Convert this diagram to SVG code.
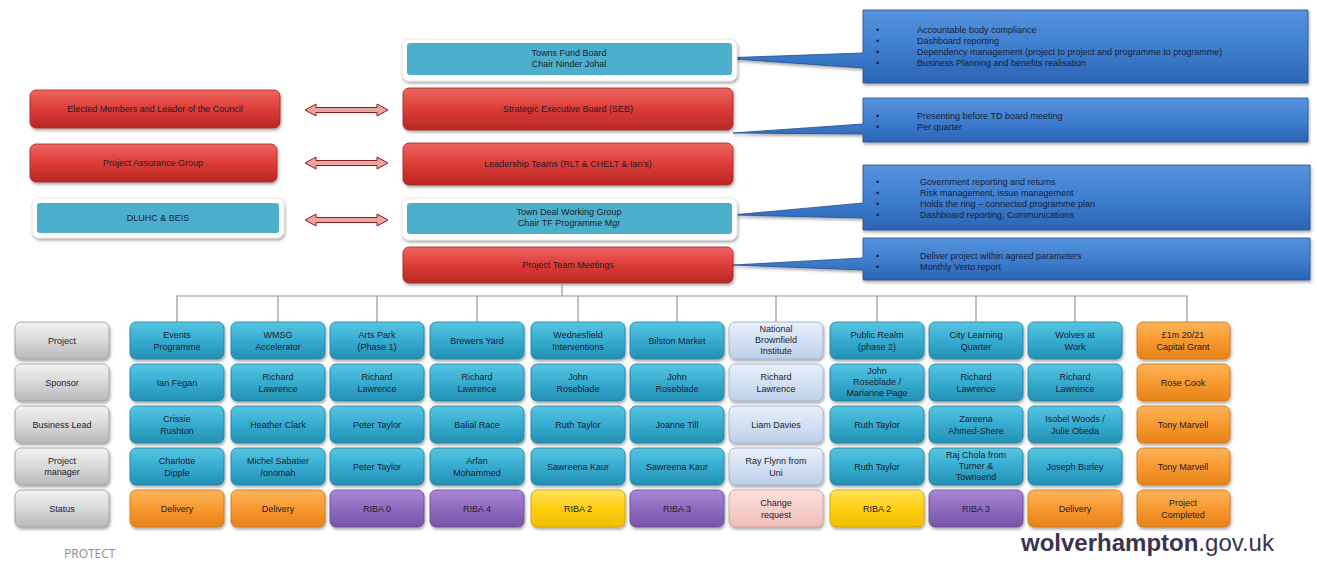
<svg xmlns="http://www.w3.org/2000/svg" width="1317" height="563" viewBox="0 0 1317 563">
<defs>
<linearGradient id="gRed" x1="0" y1="0" x2="0" y2="1"><stop offset="0" stop-color="#ee6561"/><stop offset="0.5" stop-color="#dc3c37"/><stop offset="1" stop-color="#b82824"/></linearGradient>
<linearGradient id="gTeal" x1="0" y1="0" x2="0" y2="1"><stop offset="0" stop-color="#56c6e2"/><stop offset="0.5" stop-color="#36acd0"/><stop offset="1" stop-color="#2290b3"/></linearGradient>
<linearGradient id="gGray" x1="0" y1="0" x2="0" y2="1"><stop offset="0" stop-color="#f2f2f2"/><stop offset="0.5" stop-color="#d9d9d9"/><stop offset="1" stop-color="#b8b8b8"/></linearGradient>
<linearGradient id="gOrange" x1="0" y1="0" x2="0" y2="1"><stop offset="0" stop-color="#fcb45a"/><stop offset="0.5" stop-color="#f7992f"/><stop offset="1" stop-color="#e8821a"/></linearGradient>
<linearGradient id="gPurple" x1="0" y1="0" x2="0" y2="1"><stop offset="0" stop-color="#a887d2"/><stop offset="0.5" stop-color="#8f6bbf"/><stop offset="1" stop-color="#7655a8"/></linearGradient>
<linearGradient id="gYellow" x1="0" y1="0" x2="0" y2="1"><stop offset="0" stop-color="#ffe45a"/><stop offset="0.5" stop-color="#ffcf10"/><stop offset="1" stop-color="#f2bd00"/></linearGradient>
<linearGradient id="gPink" x1="0" y1="0" x2="0" y2="1"><stop offset="0" stop-color="#fde0dc"/><stop offset="1" stop-color="#f0bdb7"/></linearGradient>
<linearGradient id="gLight" x1="0" y1="0" x2="0" y2="1"><stop offset="0" stop-color="#e8f0fa"/><stop offset="0.5" stop-color="#d3e1f3"/><stop offset="1" stop-color="#bccfe9"/></linearGradient>
<linearGradient id="gBlue" x1="0" y1="0" x2="0" y2="1"><stop offset="0" stop-color="#5693de"/><stop offset="0.5" stop-color="#3f7fd0"/><stop offset="1" stop-color="#2c64b4"/></linearGradient>
<filter id="sh" x="-10%" y="-20%" width="120%" height="150%"><feDropShadow dx="1" dy="2" stdDeviation="1.5" flood-color="#000" flood-opacity="0.35"/></filter>
</defs>
<style>
text{font-family:"Liberation Sans",Arial,sans-serif;font-size:9px;fill:#1c1c2e;text-anchor:middle}
.red{fill:url(#gRed);stroke:#a52420;stroke-width:0.8}
.teal{fill:url(#gTeal);stroke:#1f7f9f;stroke-width:0.8}
.gray{fill:url(#gGray);stroke:#9a9a9a;stroke-width:0.8}
.orange{fill:url(#gOrange);stroke:#c97416;stroke-width:0.8}
.purple{fill:url(#gPurple);stroke:#62468f;stroke-width:0.8}
.yellow{fill:url(#gYellow);stroke:#c9a000;stroke-width:0.8}
.pink{fill:url(#gPink);stroke:#c99a95;stroke-width:0.8}
.light{fill:url(#gLight);stroke:#97abc6;stroke-width:0.8}
.frame{fill:#ffffff;stroke:#e2e2e2;stroke-width:0.8}
.flat{fill:#4cb0cd}
.callout{fill:url(#gBlue);stroke:#22508f;stroke-width:0.8}
.ct{text-anchor:start;fill:#161c38}
.dbl{fill:#e9a5a2;stroke:#8e1d1a;stroke-width:1}
.tree{fill:none;stroke:#8d9aa6;stroke-width:1.2}
</style>

<!-- Callouts -->
<g id="callout-towns-fund">
<path class="callout" filter="url(#sh)" d="M863,10 H1308 V83 H863 V68 L720,58 L863,53 Z"/>
<text class="ct" x="876" y="33">•</text><text class="ct" x="917" y="33">Accountable body compliance</text>
<text class="ct" x="876" y="44">•</text><text class="ct" x="917" y="44">Dashboard reporting</text>
<text class="ct" x="876" y="55">•</text><text class="ct" x="917" y="55">Dependency management (project to project and programme to programme)</text>
<text class="ct" x="876" y="66">•</text><text class="ct" x="917" y="66">Business Planning and benefits realisation</text>
</g>
<g id="callout-seb">
<path class="callout" filter="url(#sh)" d="M863,98 H1308 V142 H863 V134 L733,133 L863,124 Z"/>
<text class="ct" x="876" y="119">•</text><text class="ct" x="917" y="119">Presenting before TD board meeting</text>
<text class="ct" x="876" y="130">•</text><text class="ct" x="917" y="130">Per quarter</text>
</g>
<g id="callout-tdwg">
<path class="callout" filter="url(#sh)" d="M863,165 H1310 V230 H863 V218 L732,215 L863,203 Z"/>
<text class="ct" x="876" y="185">•</text><text class="ct" x="920" y="185">Government reporting and returns</text>
<text class="ct" x="876" y="196">•</text><text class="ct" x="920" y="196">Risk management, issue management</text>
<text class="ct" x="876" y="207">•</text><text class="ct" x="920" y="207">Holds the ring – connected programme plan</text>
<text class="ct" x="876" y="218">•</text><text class="ct" x="920" y="218">Dashboard reporting, Communications</text>
</g>
<g id="callout-ptm">
<path class="callout" filter="url(#sh)" d="M863,238 H1310 V280 H863 V270 L733,265 L863,258 Z"/>
<text class="ct" x="876" y="259">•</text><text class="ct" x="920" y="259">Deliver project within agreed parameters</text>
<text class="ct" x="876" y="270">•</text><text class="ct" x="920" y="270">Monthly Verto report</text>
</g>

<!-- Governance column -->
<g id="towns-fund-board">
<rect class="frame" filter="url(#sh)" x="402" y="39" width="335" height="42" rx="7"/>
<rect class="flat" x="407" y="43" width="325" height="32" rx="3"/>
<text x="569" y="56">Towns Fund Board</text><text x="569" y="67">Chair Ninder Johal</text>
</g>
<g id="seb">
<rect class="red" filter="url(#sh)" x="403" y="88" width="330" height="42" rx="6"/>
<text x="568" y="112">Strategic Executive Board (SEB)</text>
</g>
<g id="leadership-teams">
<rect class="red" filter="url(#sh)" x="403" y="143" width="330" height="42" rx="6"/>
<text x="568" y="167">Leadership Teams (RLT &amp; CHELT &amp; Ian's)</text>
</g>
<g id="town-deal-working-group">
<rect class="frame" filter="url(#sh)" x="402" y="198" width="335" height="42" rx="7"/>
<rect class="flat" x="407" y="203" width="325" height="31" rx="3"/>
<text x="569" y="215">Town Deal Working Group</text><text x="569" y="226">Chair TF Programme Mgr</text>
</g>
<g id="project-team-meetings">
<rect class="red" filter="url(#sh)" x="403" y="247" width="330" height="36" rx="6"/>
<text x="568" y="268">Project Team Meetings</text>
</g>

<!-- Left column -->
<g id="elected-members">
<rect class="red" filter="url(#sh)" x="30" y="90" width="250" height="38" rx="6"/>
<text x="155" y="112">Elected Members and Leader of the Council</text>
</g>
<g id="project-assurance-group">
<rect class="red" filter="url(#sh)" x="30" y="144" width="247" height="38" rx="6"/>
<text x="153" y="166">Project Assurance Group</text>
</g>
<g id="dluhc-beis">
<rect class="frame" filter="url(#sh)" x="32" y="198" width="252" height="40" rx="7"/>
<rect class="flat" x="37" y="203" width="242" height="30" rx="3"/>
<text x="158" y="221">DLUHC &amp; BEIS</text>
</g>

<!-- Connectors -->
<g id="connectors">
<path class="dbl" d="M305,110 L316,104 V107.5 H377 V104 L388,110 L377,116 V112.5 H316 V116 Z"/>
<path class="dbl" d="M305,163 L316,157 V160.5 H377 V157 L388,163 L377,169 V165.5 H316 V169 Z"/>
<path class="dbl" d="M305,220 L316,214 V217.5 H377 V214 L388,220 L377,226 V222.5 H316 V226 Z"/>
<path class="tree" d="M562,283 V296 M177,322 V296 H1187 V322 M278,296 V322 M377,296 V322 M477,296 V322 M578,296 V322 M677,296 V322 M776,296 V322 M877,296 V322 M976,296 V322 M1075,296 V322"/>
</g>

<!-- Row labels -->
<g id="labels">
<rect class="gray" filter="url(#sh)" x="15" y="322" width="94" height="37" rx="6"/><text x="62" y="344">Project</text>
<rect class="gray" filter="url(#sh)" x="15" y="364" width="94" height="37" rx="6"/><text x="62" y="386">Sponsor</text>
<rect class="gray" filter="url(#sh)" x="15" y="406" width="94" height="37" rx="6"/><text x="62" y="428">Business Lead</text>
<rect class="gray" filter="url(#sh)" x="15" y="448" width="94" height="37" rx="6"/><text x="62" y="464">Project</text><text x="62" y="475">manager</text>
<rect class="gray" filter="url(#sh)" x="15" y="490" width="94" height="37" rx="6"/><text x="62" y="512">Status</text>
</g>

<g id="events-programme">
<rect class="teal" filter="url(#sh)" x="130" y="322" width="94" height="37" rx="6"/><text x="177" y="338">Events</text><text x="177" y="350">Programme</text>
<rect class="teal" filter="url(#sh)" x="130" y="364" width="94" height="37" rx="6"/><text x="177" y="386">Ian Fegan</text>
<rect class="teal" filter="url(#sh)" x="130" y="406" width="94" height="37" rx="6"/><text x="177" y="422">Crissie</text><text x="177" y="434">Rushton</text>
<rect class="teal" filter="url(#sh)" x="130" y="448" width="94" height="37" rx="6"/><text x="177" y="464">Charlotte</text><text x="177" y="476">Dipple</text>
<rect class="orange" filter="url(#sh)" x="130" y="490" width="94" height="37" rx="6"/><text x="177" y="512">Delivery</text>
</g>
<g id="wmsg-accelerator">
<rect class="teal" filter="url(#sh)" x="231" y="322" width="94" height="37" rx="6"/><text x="278" y="338">WMSG</text><text x="278" y="350">Accelerator</text>
<rect class="teal" filter="url(#sh)" x="231" y="364" width="94" height="37" rx="6"/><text x="278" y="380">Richard</text><text x="278" y="392">Lawrence</text>
<rect class="teal" filter="url(#sh)" x="231" y="406" width="94" height="37" rx="6"/><text x="278" y="428">Heather Clark</text>
<rect class="teal" filter="url(#sh)" x="231" y="448" width="94" height="37" rx="6"/><text x="278" y="464">Michel Sabatier</text><text x="278" y="476">/onomah</text>
<rect class="orange" filter="url(#sh)" x="231" y="490" width="94" height="37" rx="6"/><text x="278" y="512">Delivery</text>
</g>
<g id="arts-park">
<rect class="teal" filter="url(#sh)" x="330" y="322" width="94" height="37" rx="6"/><text x="377" y="338">Arts Park</text><text x="377" y="350">(Phase 1)</text>
<rect class="teal" filter="url(#sh)" x="330" y="364" width="94" height="37" rx="6"/><text x="377" y="380">Richard</text><text x="377" y="392">Lawrence</text>
<rect class="teal" filter="url(#sh)" x="330" y="406" width="94" height="37" rx="6"/><text x="377" y="428">Peter Taylor</text>
<rect class="teal" filter="url(#sh)" x="330" y="448" width="94" height="37" rx="6"/><text x="377" y="470">Peter Taylor</text>
<rect class="purple" filter="url(#sh)" x="330" y="490" width="94" height="37" rx="6"/><text x="377" y="512">RIBA 0</text>
</g>
<g id="brewers-yard">
<rect class="teal" filter="url(#sh)" x="430" y="322" width="94" height="37" rx="6"/><text x="477" y="344">Brewers Yard</text>
<rect class="teal" filter="url(#sh)" x="430" y="364" width="94" height="37" rx="6"/><text x="477" y="380">Richard</text><text x="477" y="392">Lawrence</text>
<rect class="teal" filter="url(#sh)" x="430" y="406" width="94" height="37" rx="6"/><text x="477" y="428">Balial Race</text>
<rect class="teal" filter="url(#sh)" x="430" y="448" width="94" height="37" rx="6"/><text x="477" y="464">Arfan</text><text x="477" y="476">Mohammed</text>
<rect class="purple" filter="url(#sh)" x="430" y="490" width="94" height="37" rx="6"/><text x="477" y="512">RIBA 4</text>
</g>
<g id="wednesfield">
<rect class="teal" filter="url(#sh)" x="531" y="322" width="94" height="37" rx="6"/><text x="578" y="338">Wednesfield</text><text x="578" y="350">Interventions</text>
<rect class="teal" filter="url(#sh)" x="531" y="364" width="94" height="37" rx="6"/><text x="578" y="380">John</text><text x="578" y="392">Roseblade</text>
<rect class="teal" filter="url(#sh)" x="531" y="406" width="94" height="37" rx="6"/><text x="578" y="428">Ruth Taylor</text>
<rect class="teal" filter="url(#sh)" x="531" y="448" width="94" height="37" rx="6"/><text x="578" y="470">Sawreena Kaur</text>
<rect class="yellow" filter="url(#sh)" x="531" y="490" width="94" height="37" rx="6"/><text x="578" y="512">RIBA 2</text>
</g>
<g id="bilston-market">
<rect class="teal" filter="url(#sh)" x="630" y="322" width="94" height="37" rx="6"/><text x="677" y="344">Bilston Market</text>
<rect class="teal" filter="url(#sh)" x="630" y="364" width="94" height="37" rx="6"/><text x="677" y="380">John</text><text x="677" y="392">Roseblade</text>
<rect class="teal" filter="url(#sh)" x="630" y="406" width="94" height="37" rx="6"/><text x="677" y="428">Joanne Till</text>
<rect class="teal" filter="url(#sh)" x="630" y="448" width="94" height="37" rx="6"/><text x="677" y="470">Sawreena Kaur</text>
<rect class="purple" filter="url(#sh)" x="630" y="490" width="94" height="37" rx="6"/><text x="677" y="512">RIBA 3</text>
</g>
<g id="national-brownfield-institute">
<rect class="light" filter="url(#sh)" x="729" y="322" width="94" height="37" rx="6"/><text x="776" y="332">National</text><text x="776" y="343">Brownfield</text><text x="776" y="354">Institute</text>
<rect class="light" filter="url(#sh)" x="729" y="364" width="94" height="37" rx="6"/><text x="776" y="380">Richard</text><text x="776" y="392">Lawrence</text>
<rect class="light" filter="url(#sh)" x="729" y="406" width="94" height="37" rx="6"/><text x="776" y="428">Liam Davies</text>
<rect class="light" filter="url(#sh)" x="729" y="448" width="94" height="37" rx="6"/><text x="776" y="464">Ray Flynn from</text><text x="776" y="476">Uni</text>
<rect class="pink" filter="url(#sh)" x="729" y="490" width="94" height="37" rx="6"/><text x="776" y="506">Change</text><text x="776" y="518">request</text>
</g>
<g id="public-realm">
<rect class="teal" filter="url(#sh)" x="830" y="322" width="94" height="37" rx="6"/><text x="877" y="338">Public Realm</text><text x="877" y="350">(phase 2)</text>
<rect class="teal" filter="url(#sh)" x="830" y="364" width="94" height="37" rx="6"/><text x="877" y="374">John</text><text x="877" y="385">Roseblade /</text><text x="877" y="396">Marianne Page</text>
<rect class="teal" filter="url(#sh)" x="830" y="406" width="94" height="37" rx="6"/><text x="877" y="428">Ruth Taylor</text>
<rect class="teal" filter="url(#sh)" x="830" y="448" width="94" height="37" rx="6"/><text x="877" y="470">Ruth Taylor</text>
<rect class="yellow" filter="url(#sh)" x="830" y="490" width="94" height="37" rx="6"/><text x="877" y="512">RIBA 2</text>
</g>
<g id="city-learning-quarter">
<rect class="teal" filter="url(#sh)" x="929" y="322" width="94" height="37" rx="6"/><text x="976" y="338">City Learning</text><text x="976" y="350">Quarter</text>
<rect class="teal" filter="url(#sh)" x="929" y="364" width="94" height="37" rx="6"/><text x="976" y="380">Richard</text><text x="976" y="392">Lawrence</text>
<rect class="teal" filter="url(#sh)" x="929" y="406" width="94" height="37" rx="6"/><text x="976" y="422">Zareena</text><text x="976" y="434">Ahmed-Shere</text>
<rect class="teal" filter="url(#sh)" x="929" y="448" width="94" height="37" rx="6"/><text x="976" y="458">Raj Chola from</text><text x="976" y="469">Turner &amp;</text><text x="976" y="480">Townsend</text>
<rect class="purple" filter="url(#sh)" x="929" y="490" width="94" height="37" rx="6"/><text x="976" y="512">RIBA 3</text>
</g>
<g id="wolves-at-work">
<rect class="teal" filter="url(#sh)" x="1028" y="322" width="94" height="37" rx="6"/><text x="1075" y="338">Wolves at</text><text x="1075" y="350">Work</text>
<rect class="teal" filter="url(#sh)" x="1028" y="364" width="94" height="37" rx="6"/><text x="1075" y="380">Richard</text><text x="1075" y="392">Lawrence</text>
<rect class="teal" filter="url(#sh)" x="1028" y="406" width="94" height="37" rx="6"/><text x="1075" y="422">Isobel Woods /</text><text x="1075" y="434">Julie Obeda</text>
<rect class="teal" filter="url(#sh)" x="1028" y="448" width="94" height="37" rx="6"/><text x="1075" y="470">Joseph Burley</text>
<rect class="orange" filter="url(#sh)" x="1028" y="490" width="94" height="37" rx="6"/><text x="1075" y="512">Delivery</text>
</g>
<g id="capital-grant">
<rect class="orange" filter="url(#sh)" x="1137" y="322" width="93" height="37" rx="6"/><text x="1183" y="338">£1m 20/21</text><text x="1183" y="350">Capital Grant</text>
<rect class="orange" filter="url(#sh)" x="1137" y="364" width="93" height="37" rx="6"/><text x="1183" y="386">Rose Cook</text>
<rect class="orange" filter="url(#sh)" x="1137" y="406" width="93" height="37" rx="6"/><text x="1183" y="428">Tony Marvell</text>
<rect class="orange" filter="url(#sh)" x="1137" y="448" width="93" height="37" rx="6"/><text x="1183" y="470">Tony Marvell</text>
<rect class="orange" filter="url(#sh)" x="1137" y="490" width="93" height="37" rx="6"/><text x="1183" y="506">Project</text><text x="1183" y="518">Completed</text>
</g>

<!-- Footer -->
<text x="64" y="558" style="text-anchor:start;font-size:12px;fill:#8c8c8c;font-family:'Open Sans','Liberation Sans',sans-serif">PROTECT</text>
<text x="1021" y="551" style="text-anchor:start;font-size:24px;fill:#3a3450"><tspan style="font-weight:bold">wolverhampton</tspan><tspan>.gov.uk</tspan></text>
</svg>
